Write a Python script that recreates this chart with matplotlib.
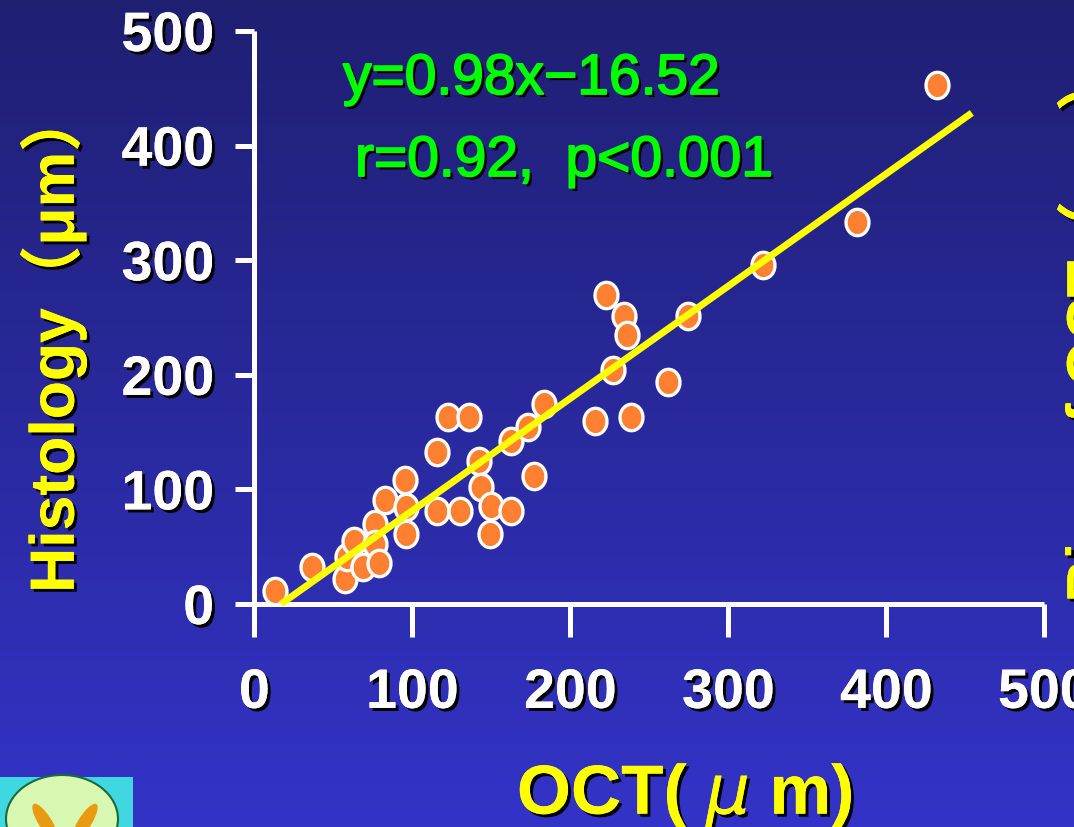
import numpy as np
import matplotlib
matplotlib.use('Agg')
import matplotlib.pyplot as plt
import matplotlib.patheffects as pe
import matplotlib.patches as patches
from matplotlib.path import Path

# dati (OCT vs istologia, micron)
oct_um = [13.0, 36.5, 57.3, 58.6, 63.0, 68.7, 76.3, 76.3, 78.9, 82.7,
          95.3, 95.9, 95.9, 115.6, 115.6, 122.5, 135.8, 130.1, 142.2, 143.4,
          149.7, 149.1, 162.4, 162.4, 173.2, 183.3, 177.0, 215.6, 238.4, 227.0,
          261.8, 222.5, 233.9, 235.8, 274.4, 321.9, 381.4, 432.0]
histology_um = [11.3, 32.3, 21.8, 41.0, 55.0, 32.3, 69.8, 52.4, 35.8, 90.8,
                108.2, 84.6, 61.1, 132.6, 81.2, 163.2, 163.2, 81.2, 124.8, 102.1,
                85.5, 61.1, 81.2, 142.2, 154.5, 174.5, 111.7, 159.7, 163.2, 204.2,
                193.7, 269.6, 251.3, 234.7, 251.3, 295.8, 333.3, 452.9]
slope, intercept = 0.98, -16.52
fit_range = [16.86, 454.1]
ticks = [0, 100, 200, 300, 400, 500]

W, H = 1074, 828
fig = plt.figure(figsize=(W / 100, H / 100), dpi=100)

# sfondo sfumato blu
bg = fig.add_axes([0, 0, 1, 1], zorder=-10)
top = np.array([0x1f, 0x1f, 0x72]) / 255
bottom = np.array([0x33, 0x33, 0xc8]) / 255
t = np.linspace(0, 1, 256)[:, None]
grad = top + (bottom - top) * t
bg.imshow(np.repeat(grad[:, None, :], 2, axis=1), aspect='auto', extent=[0, 1, 0, 1])
bg.set_axis_off()

# piccolo logo in basso a sinistra
bg.add_patch(patches.Rectangle((0, 0), 133 / W, 50 / H, transform=bg.transAxes,
                               facecolor='#3fd8e0', edgecolor='none'))
bg.add_patch(patches.Ellipse((62 / W, 8 / H), 112 / W, 88 / H, transform=bg.transAxes,
                             facecolor='#d8f7b0', edgecolor='#1a6a40', lw=1.5))
bg.add_patch(patches.Ellipse((45 / W, 5 / H), 14 / W, 40 / H, angle=25, transform=bg.transAxes,
                             facecolor='#e89a10', edgecolor='none'))
bg.add_patch(patches.Ellipse((85 / W, 5 / H), 14 / W, 40 / H, angle=-25, transform=bg.transAxes,
                             facecolor='#e89a10', edgecolor='none'))

# assi principali
xlim = (-9.1, 502)
ax = fig.add_axes([240 / W, (H - 605) / H, 807.5 / W, 573 / H])
ax.set_facecolor('none')
ax.set_xlim(*xlim)
ax.set_ylim(0, 500)
for s in ['top', 'right']:
    ax.spines[s].set_visible(False)
ax.spines['left'].set_position(('data', 0))
ax.spines['bottom'].set_bounds(xlim[0], 500)
for s in ['left', 'bottom']:
    ax.spines[s].set_color('white')
    ax.spines[s].set_linewidth(3.6)
    ax.spines[s].set_capstyle('butt')

ax.set_xticks(ticks)
ax.set_yticks(ticks)
ax.tick_params(axis='x', direction='out', length=24, width=3.6, color='white',
               pad=22, labelcolor='white', labelsize=40)
ax.tick_params(axis='y', direction='out', length=14, width=3.6, color='white',
               pad=15, labelcolor='white', labelsize=40)

shadow = [pe.withSimplePatchShadow(offset=(2.2, -2.2), shadow_rgbFace='black', alpha=1), pe.Normal()]
for lab in ax.get_xticklabels() + ax.get_yticklabels():
    lab.set_fontfamily('Liberation Sans')
    lab.set_fontweight('bold')
    lab.set_path_effects(shadow)

# punti ellittici
theta = np.linspace(0, 2 * np.pi, 60)
ellipse = Path(np.column_stack([np.cos(theta), 1.15 * np.sin(theta)]))
ax.plot(oct_um, histology_um, linestyle='none', marker=ellipse, ms=19,
        mfc='#ff8030', mec='white', mew=2.4, clip_on=False, zorder=3)

# retta di regressione
xf = np.array(fit_range)
ax.plot(xf, slope * xf + intercept, color='#ffff00', lw=5, solid_capstyle='butt',
        clip_on=False, zorder=4)

# testi
green_fx = [pe.withSimplePatchShadow(offset=(2.2, -2.2), shadow_rgbFace='black', alpha=1),
            pe.Stroke(linewidth=1.3, foreground='#00ff00'), pe.Normal()]
green_kw = dict(color='#00ff00', fontsize=41, family='Liberation Sans',
                va='baseline', ha='left', path_effects=green_fx)
fig.text(343 / W, 1 - 95 / H, 'y=0.98x\u221216.52', **green_kw)
fig.text(355 / W, 1 - 177 / H, 'r=0.92,  p<0.001', **green_kw)

label_family = ['Liberation Sans', 'Noto Sans CJK JP']
fig.text(685 / W, 1 - 815 / H, r'OCT( $\mu$ m)', color='#ffff00', fontsize=50,
         family='Liberation Sans', fontweight='bold', ha='center', va='baseline',
         path_effects=shadow)
fig.text(20 / W, 1 - 342 / H, 'Histology（μm）', color='#ffff00', fontsize=45,
         family=label_family, fontweight='bold', rotation=90, ha='left', va='center',
         path_effects=shadow)
fig.text(1057 / W, 1 - 328 / H, 'Bias of OCT（μm）', color='#ffff00', fontsize=43,
         family=label_family, fontweight='bold', rotation=90, ha='left', va='center',
         path_effects=shadow)

fig.savefig('out.png', dpi=100)
